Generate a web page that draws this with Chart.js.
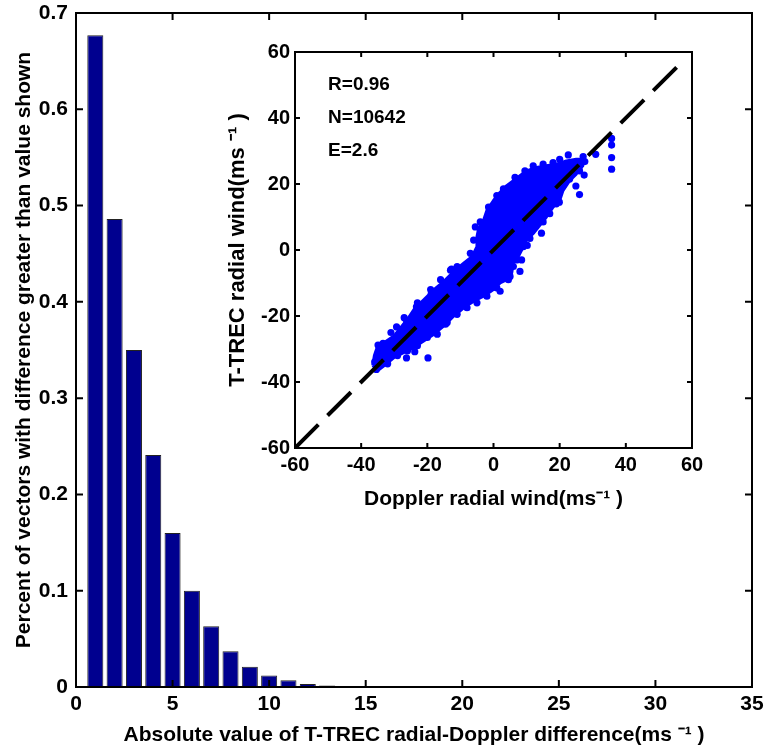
<!DOCTYPE html>
<html>
<head>
<meta charset="utf-8">
<script src="https://cdn.jsdelivr.net/npm/chart.js@4.4.1/dist/chart.umd.min.js"></script>
<style>
  html, body { margin: 0; padding: 0; background: #fff; }
  #wrap { position: relative; width: 764px; height: 750px; }
  #main { position: absolute; left: 0; top: 0; }
  #inset { position: absolute; left: 225px; top: 35px; }
</style>
</head>
<body>
<div id="wrap">
  <canvas id="main" width="764" height="750"></canvas>
  <canvas id="inset" width="490" height="480"></canvas>
</div>
<script>
// ---------- Main bar chart data ----------
const binCenters = [1, 2, 3, 4, 5, 6, 7, 8, 9, 10, 11, 12, 13];
const fractionAbove = [0.677, 0.486, 0.350, 0.241, 0.160, 0.100, 0.063, 0.037, 0.021, 0.012, 0.007, 0.003, 0.0015];
const mainXTicks = [0, 5, 10, 15, 20, 25, 30, 35];
const mainYTicks = [0, 0.1, 0.2, 0.3, 0.4, 0.5, 0.6, 0.7];

// ---------- Inset scatter data ----------
// outline of the dense core of the point cloud
const cloudX = [-36.5, -36, -35, -33, -30, -28, -26, -24, -22, -20, -18, -15, -12, -9, -6.5, -5, -5, -4.5, -3, -2, 0, 2, 4, 6, 8, 10, 13, 16, 19, 22, 25, 27,
                27, 25, 23, 21, 20, 18, 16, 14, 12, 10, 8.5, 7.5, 6, 5.5, 4, 2, 0, -3, -6, -9, -12, -15, -18, -21, -24, -27, -30, -33, -35, -36.5];
const cloudY = [-35, -32, -29, -28, -26, -23.5, -21, -18, -16, -14, -12, -9.5, -6.5, -4, -2, 1, 4, 6.5, 9, 12, 15, 17.5, 19.5, 21, 22.5, 24, 25, 25.5, 26, 27, 27.5, 27.5,
                25.5, 23, 21, 18, 15, 13, 10, 7.5, 5, 3, 0, -2, -4, -7, -9, -10, -12, -14, -15.5, -17.5, -20, -23, -25.5, -27.5, -29.5, -31, -32.5, -35, -36.5, -35];
// individual markers: fringe and outliers
const dotX = [-26.3, -19.8, -23.8, -12.7, -5.5, 22.6, 27.1, 30.9, 35.7, 35.7, 35.7, 35.7, 27.6, 27.4, 24.9, 26, 19.9, 14.5, 10.2, 8.5,
              -34.9, -35.9, -35.4, -33.4, -29.3, -26.3, -23.3, -18.8, -13, -8, 8, 5, 2, -14.5, -17, -33,
              -31, -27, -23, -19, -16, -11, -7, -6, -4, -1.5, 1, 3, 6.5, 9.5, 12, 15, 18, 20,
              26, 23, 21, 19, 17, 15, 11, 9, 7, 6, 4.5, 1, -2, -5, -8, -11, -14, -20, -23, -26, -29, -32];
const dotY = [-32.7, -32.7, -30.8, -5.8, 7, 28.8, 28.3, 29, 33.8, 31.8, 28, 24.5, 26.8, 22.7, 19.4, 16.8, 14.5, 5.1, 1.4, -3,
              -28.8, -33.9, -36.2, -28.3, -23.3, -21.3, -17.2, -13.2, -6.1, -5, -6.5, -8, -12.5, -22.5, -25.5, -33,
              -25, -20.5, -16, -12, -9, -5, -1, 3, 8.5, 13, 16.5, 18.5, 22, 24, 25.5, 26, 26.5, 27.5,
              24, 21.5, 19.5, 14, 11, 8.5, 3.5, 1, -3, -5, -9, -11.5, -14, -16, -17.5, -19.5, -22, -26.5, -29, -30.5, -32, -34.5];
const diagX = [-60, 58];
const diagY = [-60, 58];
const insetTicks = [-60, -40, -20, 0, 20, 40, 60];
const statsText = ['R=0.96', 'N=10642', 'E=2.6'];
const statsTextY = [50, 40, 30];
const statsTextX = -50;

const FONT = 'Liberation Sans, Arial, Helvetica, sans-serif';

const boxTicks = {
  id: 'boxTicks',
  afterDraw(chart, args, opts) {
    const {ctx, chartArea: a, scales} = chart;
    const L = opts.len || 6;
    ctx.save();
    ctx.strokeStyle = '#000';
    ctx.lineWidth = opts.lw || 1;
    ctx.beginPath();
    scales.x.ticks.forEach(t => {
      const px = scales.x.getPixelForValue(t.value);
      ctx.moveTo(px, a.bottom); ctx.lineTo(px, a.bottom - L);
      ctx.moveTo(px, a.top); ctx.lineTo(px, a.top + L);
    });
    scales.y.ticks.forEach(t => {
      const py = scales.y.getPixelForValue(t.value);
      ctx.moveTo(a.left, py); ctx.lineTo(a.left + L, py);
      ctx.moveTo(a.right, py); ctx.lineTo(a.right - L, py);
    });
    ctx.stroke();
    ctx.strokeRect(a.left, a.top, a.right - a.left, a.bottom - a.top);
    ctx.restore();
  }
};

const statsPlugin = {
  id: 'stats',
  afterDraw(chart) {
    const {ctx, scales} = chart;
    ctx.save();
    ctx.fillStyle = '#000';
    ctx.font = 'bold 19px ' + FONT;
    ctx.textAlign = 'left';
    ctx.textBaseline = 'middle';
    statsText.forEach((s, i) => {
      ctx.fillText(s, scales.x.getPixelForValue(statsTextX), scales.y.getPixelForValue(statsTextY[i]));
    });
    ctx.restore();
  }
};

function fixX(h) {
  return function (s) { s.height = h; s.paddingLeft = 0; s.paddingRight = 0; };
}
function fixY(w) {
  return function (s) { s.width = w; s.paddingTop = 0; s.paddingBottom = 0; };
}

const mainTickFont = {family: FONT, size: 21, weight: 'bold'};
const insetTickFont = {family: FONT, size: 20, weight: 'bold'};
const titleFont = {family: FONT, size: 21, weight: 'bold'};
const insetYTitleFont = {family: FONT, size: 22, weight: 'bold'};

// ---------- main chart ----------
new Chart(document.getElementById('main'), {
  type: 'bar',
  data: {
    datasets: [{
      data: binCenters.map((x, i) => ({x: x, y: fractionAbove[i]})),
      backgroundColor: '#00008F',
      borderColor: '#222',
      borderWidth: 1,
      barPercentage: 0.83,
      categoryPercentage: 1
    }]
  },
  options: {
    responsive: false,
    animation: false,
    events: [],
    layout: {padding: {left: 0, right: 12, top: 13, bottom: 0}},
    plugins: {legend: {display: false}, tooltip: {enabled: false}, boxTicks: {len: 7, lw: 2}},
    scales: {
      x: {
        type: 'linear', min: 0, max: 35, offset: false,
        afterBuildTicks(s) { s.ticks = mainXTicks.map(v => ({value: v})); },
        ticks: {font: mainTickFont, color: '#000', padding: 5, maxRotation: 0, autoSkip: false},
        grid: {display: false, drawTicks: false},
        border: {display: false},
        title: {display: true, text: 'Absolute value of T-TREC radial-Doppler difference(ms \u207B\u00B9 )', font: titleFont, color: '#000', padding: 2},
        afterFit: fixX(63)
      },
      y: {
        type: 'linear', min: 0, max: 0.7,
        afterBuildTicks(s) { s.ticks = mainYTicks.map(v => ({value: v})); },
        ticks: {font: mainTickFont, color: '#000', padding: 8, autoSkip: false, callback: v => String(Math.round(v * 10) / 10)},
        grid: {display: false, drawTicks: false},
        border: {display: false},
        title: {display: true, text: 'Percent of vectors with difference greater than value shown', font: titleFont, color: '#000', padding: 12},
        afterFit: fixY(76)
      }
    }
  },
  plugins: [boxTicks]
});

// ---------- inset scatter ----------
new Chart(document.getElementById('inset'), {
  type: 'scatter',
  data: {
    datasets: [
      {
        type: 'line',
        data: diagX.map((x, i) => ({x: x, y: diagY[i]})),
        borderColor: '#000', borderWidth: 4, borderDash: [33, 13], borderCapStyle: 'butt',
        pointRadius: 0, fill: false, order: 0
      },
      {
        data: dotX.map((x, i) => ({x: x, y: dotY[i]})),
        backgroundColor: '#0000FF', borderWidth: 0, pointRadius: 3.6, order: 1
      },
      {
        type: 'line',
        data: cloudX.map((x, i) => ({x: x, y: cloudY[i]})).concat([{x: cloudX[0], y: cloudY[0]}]),
        borderColor: '#0000FF', backgroundColor: '#0000FF', borderWidth: 3, borderJoinStyle: 'round',
        fill: 'shape', pointRadius: 0, tension: 0, order: 2
      }
    ]
  },
  options: {
    responsive: false,
    animation: false,
    events: [],
    layout: {padding: {left: 0, right: 23, top: 17, bottom: 0}},
    plugins: {legend: {display: false}, tooltip: {enabled: false}, boxTicks: {len: 5, lw: 2}},
    scales: {
      x: {
        type: 'linear', min: -60, max: 60,
        afterBuildTicks(s) { s.ticks = insetTicks.map(v => ({value: v})); },
        ticks: {font: insetTickFont, color: '#000', padding: 5, maxRotation: 0, autoSkip: false},
        grid: {display: false, drawTicks: false},
        border: {display: false},
        title: {display: true, text: 'Doppler radial wind(ms\u207B\u00B9 )', font: titleFont, color: '#000', padding: 3},
        afterFit: fixX(67)
      },
      y: {
        type: 'linear', min: -60, max: 60,
        afterBuildTicks(s) { s.ticks = insetTicks.map(v => ({value: v})); },
        ticks: {font: insetTickFont, color: '#000', padding: 5, autoSkip: false},
        grid: {display: false, drawTicks: false},
        border: {display: false},
        title: {display: true, text: 'T-TREC radial wind(ms \u207B\u00B9 )', font: insetYTitleFont, color: '#000', padding: 0},
        afterFit: fixY(70)
      }
    }
  },
  plugins: [boxTicks, statsPlugin]
});
</script>
</body>
</html>
